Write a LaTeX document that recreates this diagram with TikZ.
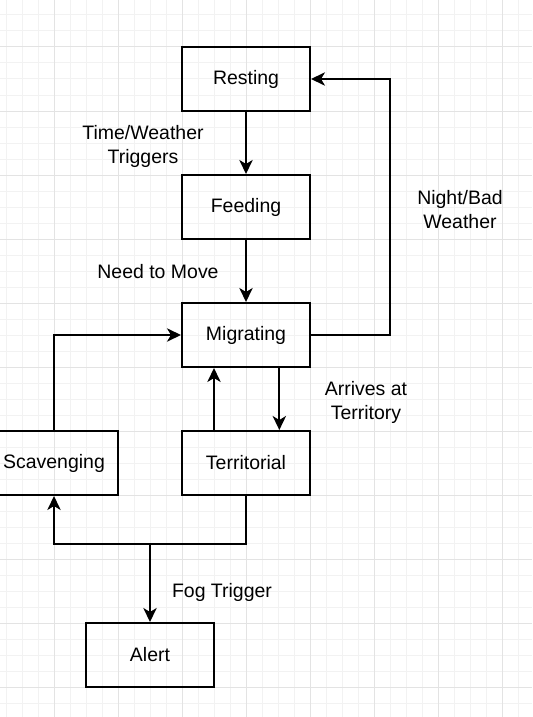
\documentclass[tikz,border=0pt]{standalone}
\usepackage{fontspec}
\setmainfont{Liberation Sans}
\usetikzlibrary{positioning,arrows.meta}
\tikzset{
    x=0.75pt, y=-0.75pt, % one unit is one pixel of the reference
    node distance=46.5pt, % gap between two stacked states
    state/.style={draw, line width=1.5pt, minimum width=96pt, minimum height=48pt,
        font=\fontsize{14.6}{18}\selectfont},
    note/.style={align=center, font=\fontsize{14.6}{18}\selectfont},
    flow/.style={line width=1.5pt, -{Stealth[length=10.5pt, width=10pt, inset=3pt]}},
    minor grid/.style={gray!10, line width=0.75pt},
    major grid/.style={gray!22, line width=0.75pt},
}

\begin{document}
\begin{tikzpicture}
  \useasboundingbox (0,0) rectangle (532,717);
  % background grid
  \foreach \x in {6,22,...,534} \draw[minor grid] (\x,0) -- (\x,717);
  \foreach \y in {15,31,...,717} \draw[minor grid] (0,\y) -- (532,\y);
  \foreach \x in {54,118,...,534} \draw[major grid] (\x,0) -- (\x,717);
  \foreach \y in {47,111,...,717} \draw[major grid] (0,\y) -- (532,\y);

  \node[state] (resting) at (246,79) {Resting};
  \node[state] (feeding) [below=of resting] {Feeding};
  \node[state] (migrating) [below=of feeding] {Migrating};
  \node[state] (territorial) [below=of migrating] {Territorial};
  \node[state] (scavenging) at (54,463) {Scavenging};
  \node[state] (alert) at (150,655) {Alert};

  \coordinate (c_night) at (390,79);
  \coordinate (c_split) at (150,544);

  \node[note] (l_time) at (143,146) {Time/Weather\\Triggers};
  \node[note] (l_move) at (158,272) {Need to Move};
  \node[note] (l_night) at (460,210) {Night/Bad\\Weather};
  \node[note] (l_arrive) at (366,402) {Arrives at\\Territory};
  \node[note] (l_fog) at (222,592) {Fog Trigger};

  \draw[flow] (resting) -- (feeding);
  \draw[flow] (feeding) -- (migrating);
  \draw[flow] (migrating.east) -| (c_night) -- (resting.east);
  \draw[flow] ([xshift=25pt]migrating.south) -- ([xshift=25pt]territorial.north);
  \draw[flow] ([xshift=-24pt]territorial.north) -- ([xshift=-24pt]migrating.south);
  \draw[flow] (scavenging.north) |- (migrating.west);
  \draw[flow] (territorial.south) |- (c_split) -| (scavenging.south);
  \draw[flow] (c_split) -- (alert.north);
\end{tikzpicture}
\end{document}
